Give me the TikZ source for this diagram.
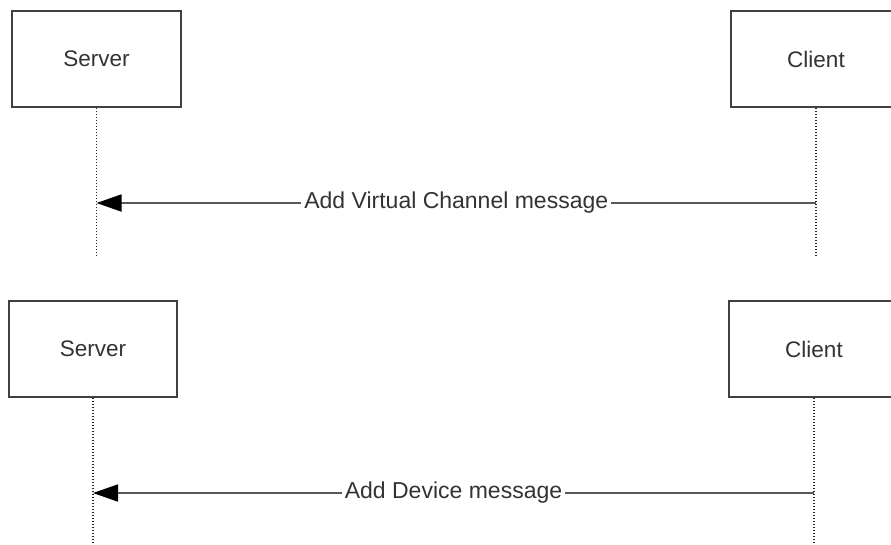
\documentclass[tikz,border=0pt]{standalone}
\usepackage{fontspec}
\setmainfont{Liberation Sans}
\usetikzlibrary{arrows.meta}
\begin{document}
\begin{tikzpicture}[x=1pt,y=-1pt,
  actor/.style={draw=black!75,line width=1.8pt,fill=white,minimum height=96pt,inner sep=0pt,font=\fontsize{22.5}{25}\selectfont,text=black!80},
  life/.style={draw=black!85,line width=1.4pt,dash pattern=on 1.4pt off 1.6pt},
  msg/.style={draw=black!65,line width=1.8pt,-{Triangle[length=25pt,width=17pt,fill=black,color=black]}},
  lbl/.style={fill=white,inner sep=3pt,font=\fontsize{23}{26}\selectfont,text=black!80}]
\clip (0,0) rectangle (891,544);
\fill[white] (0,0) rectangle (891,544);
% top diagram
\node[actor,minimum width=169pt] (s1) at (96.5,59) {Server};
\node[actor,minimum width=170pt] (c1) at (816,59) {Client};
\coordinate (s1e) at (96.5,255);
\coordinate (c1e) at (816,255);
\coordinate (s1m) at (96.5,203);
\coordinate (c1m) at (816,203);
\draw[life] (s1.south) -- (s1e);
\draw[life] (c1.south) -- (c1e);
\draw[msg] (c1m) -- node[lbl] {Add Virtual Channel message} (s1m);
% bottom diagram
\node[actor,minimum width=168pt] (s2) at (93,349) {Server};
\node[actor,minimum width=170pt] (c2) at (814,349) {Client};
\coordinate (s2e) at (93,544);
\coordinate (c2e) at (814,544);
\coordinate (s2m) at (93,493);
\coordinate (c2m) at (814,493);
\draw[life] (s2.south) -- (s2e);
\draw[life] (c2.south) -- (c2e);
\draw[msg] (c2m) -- node[lbl] {Add Device message} (s2m);
\end{tikzpicture}
\end{document}
